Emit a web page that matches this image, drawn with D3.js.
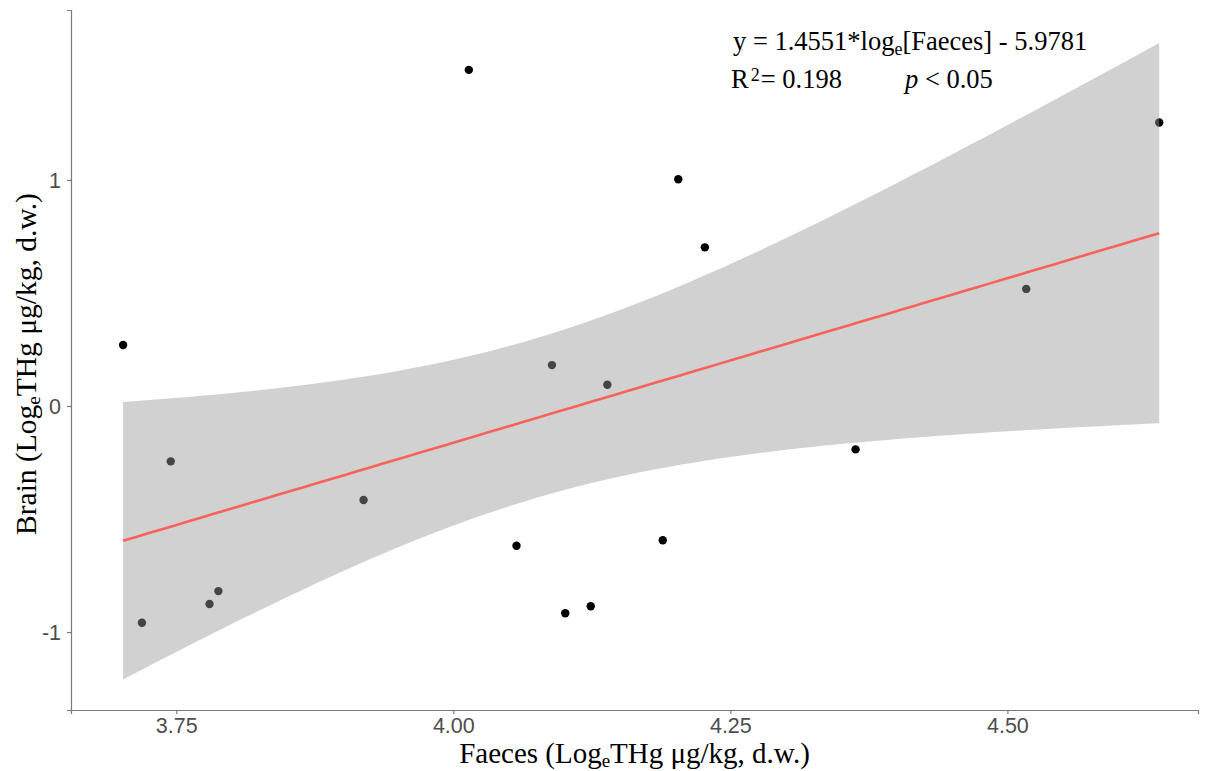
<!DOCTYPE html>
<html>
<head>
<meta charset="utf-8">
<script src="https://cdn.jsdelivr.net/npm/d3@7"></script>
<style>
  body { margin: 0; background: #fff; }
  .serif { font-family: "Liberation Serif", "Times New Roman", serif; fill: #000; }
</style>
</head>
<body>
<div id="chart"></div>
<script>
// log_e faeces THg vs log_e brain THg
const faeces = [3.702, 3.719, 3.745, 3.780, 3.788, 3.919, 4.014, 4.089, 4.139,
                4.057, 4.101, 4.124, 4.189, 4.363, 4.203, 4.227, 4.517, 4.637];
const brain  = [0.270, -0.959, -0.245, -0.876, -0.819, -0.416, 1.487, 0.181, 0.094,
                -0.618, -0.917, -0.886, -0.594, -0.192, 1.003, 0.702, 0.518, 1.254];
const xTicks = [3.75, 4.00, 4.25, 4.50];
const yTicks = [-1, 0, 1];

const W = 1208, H = 771;
const margin = { top: 10, right: 10, bottom: 61, left: 71 };
const width = W - margin.left - margin.right;
const height = H - margin.top - margin.bottom;

const svg = d3.select("#chart").append("svg")
  .attr("width", W).attr("height", H);
const g = svg.append("g")
  .attr("transform", "translate(" + margin.left + "," + margin.top + ")");

const x = d3.scaleLinear().domain([3.655, 4.672]).range([0, width]);
const y = d3.scaleLinear().domain([-1.345, 1.752]).range([height, 0]);

// linear fit + 95% confidence band (like geom_smooth(method = "lm"))
const pts = faeces.map((d, i) => ({ x: d, y: brain[i] }));
const n = pts.length;
const mx = d3.mean(pts, d => d.x), my = d3.mean(pts, d => d.y);
const sxx = d3.sum(pts, d => (d.x - mx) ** 2);
const sxy = d3.sum(pts, d => (d.x - mx) * (d.y - my));
const slope = sxy / sxx, icpt = my - slope * mx;
const s = Math.sqrt(d3.sum(pts, d => (d.y - (icpt + slope * d.x)) ** 2) / (n - 2));
const tq = 2.1199; // qt(0.975, 16)
const [x0, x1] = d3.extent(faeces);
const band = d3.range(0, 81).map(i => {
  const xv = x0 + (x1 - x0) * i / 80;
  const fit = icpt + slope * xv;
  const se = s * Math.sqrt(1 / n + (xv - mx) ** 2 / sxx);
  return { x: xv, fit: fit, lo: fit - tq * se, hi: fit + tq * se };
});

// points first, ribbon drawn on top with alpha (points inside look grey)
g.selectAll("circle").data(pts).enter().append("circle")
  .attr("cx", d => x(d.x))
  .attr("cy", d => y(d.y))
  .attr("r", 4.2)
  .attr("fill", "#000");

g.append("path")
  .datum(band)
  .attr("fill", "#999999")
  .attr("fill-opacity", 0.45)
  .attr("d", d3.area().x(d => x(d.x)).y0(d => y(d.lo)).y1(d => y(d.hi)));

g.append("path")
  .datum(band)
  .attr("fill", "none")
  .attr("stroke", "#f8625a")
  .attr("stroke-width", 2.6)
  .attr("d", d3.line().x(d => x(d.x)).y(d => y(d.fit)));

// axes
const xAxis = g.append("g")
  .attr("transform", "translate(0," + height + ")")
  .call(d3.axisBottom(x).tickValues(xTicks).tickFormat(d3.format(".2f")).tickSizeOuter(0).tickSize(4).tickPadding(4));
const yAxis = g.append("g")
  .call(d3.axisLeft(y).tickValues(yTicks).tickFormat(d => String(d)).tickSizeOuter(0).tickSize(4).tickPadding(6));
[xAxis, yAxis].forEach(a => {
  a.select(".domain").attr("stroke", "#7a7a7a").attr("stroke-width", 1.2);
  a.selectAll(".tick line").attr("stroke", "#7a7a7a").attr("stroke-width", 1.2);
  a.selectAll(".tick text")
    .style("font-family", "'Liberation Sans', Arial, sans-serif")
    .style("font-size", "21.5px")
    .attr("fill", "#4d4d4d");
});
yAxis.selectAll(".tick text").attr("dy", "0.36em");

// axis titles
const xt = svg.append("text").attr("class", "serif")
  .attr("x", margin.left + width / 2).attr("y", 763)
  .attr("text-anchor", "middle").style("font-size", "29px");
xt.append("tspan").text("Faeces (Log");
xt.append("tspan").attr("baseline-shift", "-22%").style("font-size", "19px").text("e");
xt.append("tspan").text("THg μg/kg, d.w.)");

const yt = svg.append("text").attr("class", "serif")
  .attr("transform", "translate(36," + (margin.top + height / 2 + 4) + ") rotate(-90)")
  .attr("text-anchor", "middle").style("font-size", "29.5px");
yt.append("tspan").text("Brain (Log");
yt.append("tspan").attr("baseline-shift", "-22%").style("font-size", "19px").text("e");
yt.append("tspan").text("THg μg/kg, d.w.)");

// equation annotation
const eq = svg.append("text").attr("class", "serif")
  .attr("x", 733).attr("y", 50).style("font-size", "26.5px");
eq.append("tspan").text("y = 1.4551*log");
eq.append("tspan").attr("baseline-shift", "-25%").style("font-size", "18px").text("e");
eq.append("tspan").text("[Faeces] - 5.9781");

const r2 = svg.append("text").attr("class", "serif")
  .attr("x", 731).attr("y", 88).style("font-size", "26.5px");
r2.append("tspan").text("R");
r2.append("tspan").attr("dx", 2).attr("baseline-shift", "40%").style("font-size", "18px").text("2");
r2.append("tspan").attr("dx", 1).text("= 0.198");

const pv = svg.append("text").attr("class", "serif")
  .attr("x", 905).attr("y", 88).style("font-size", "26.5px");
pv.append("tspan").style("font-style", "italic").text("p");
pv.append("tspan").text(" < 0.05");
</script>
</body>
</html>
